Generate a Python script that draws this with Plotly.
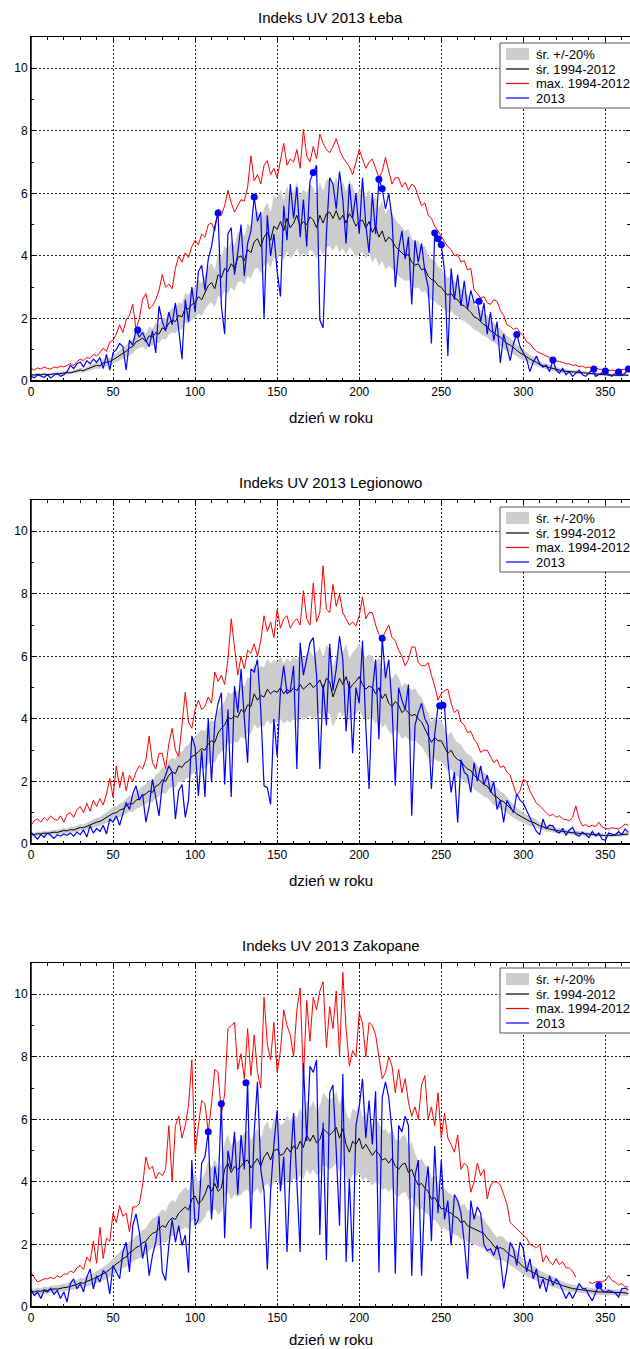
import plotly.graph_objects as go

# ---------------- DATA ----------------
# all series sampled every 2 days: day 0,2,...,364
obs_days = list(range(0, 365, 2))

leba_mean = [0.20, 0.19, 0.21, 0.20, 0.22, 0.20, 0.21, 0.23, 0.22, 0.24, 0.25,
             0.27, 0.26, 0.30, 0.32, 0.35, 0.33, 0.38, 0.42, 0.45, 0.50, 0.48, 0.58, 0.60, 0.62, 0.68,
             0.75, 0.82, 0.90, 0.95, 1.05, 1.10, 1.25, 1.30, 1.38, 1.25, 1.45, 1.40, 1.55, 1.50, 1.70, 1.65, 1.85, 1.95, 1.90, 2.10, 2.05, 2.35, 2.30, 2.45, 2.50,
             2.70, 2.60, 2.85, 3.05, 3.15, 2.95, 3.40, 3.30, 3.60, 3.50, 3.75, 3.60, 3.95, 4.00, 3.85, 4.20, 4.10, 4.45, 4.55, 4.30, 4.60, 4.75, 4.50, 4.95, 4.85,
             5.10, 4.80, 5.20, 4.90, 5.05, 5.30, 4.95, 5.10, 5.00, 5.25, 5.15, 4.90, 5.30, 5.05, 5.35, 5.40, 5.20, 5.45, 5.15, 5.30, 5.05, 5.35, 5.20, 4.95, 5.10,
             5.15, 4.90, 5.10, 4.75, 4.95, 4.60, 4.80, 4.45, 4.60, 4.50, 4.30, 4.20, 4.10, 4.00, 4.05, 3.80, 3.70, 3.75, 3.55, 3.60, 3.35, 3.25, 3.20, 3.05, 3.00,
             2.85, 2.75, 2.80, 2.65, 2.60, 2.45, 2.40, 2.30, 2.20, 2.05, 2.00, 1.90, 1.80, 1.75, 1.60, 1.55, 1.45, 1.40, 1.30, 1.20, 1.15, 1.05, 0.98, 0.90, 0.85,
             0.78, 0.70, 0.65, 0.60, 0.52, 0.50, 0.46, 0.43, 0.40, 0.36, 0.34, 0.32, 0.31, 0.30, 0.28, 0.27, 0.26, 0.25, 0.24, 0.23, 0.22, 0.21, 0.21, 0.20, 0.20,
             0.19, 0.19, 0.18, 0.18, 0.18, 0.19, 0.18]
leba_max = [0.40, 0.35, 0.42, 0.38, 0.45, 0.40, 0.38, 0.45, 0.42, 0.48, 0.45,
            0.50, 0.55, 0.50, 0.62, 0.70, 0.65, 0.75, 0.72, 0.85, 0.80, 0.90, 1.05, 0.95, 1.25, 1.30,
            1.50, 1.80, 1.55, 1.95, 2.10, 2.45, 1.65, 2.00, 2.60, 2.80, 2.30, 2.40, 2.60, 2.90, 3.40, 3.00, 3.10, 2.95, 3.60, 4.00, 3.80, 4.10, 3.95, 4.30, 4.50,
            4.35, 4.70, 4.60, 5.00, 5.05, 4.80, 5.50, 5.30, 5.60, 6.10, 5.70, 5.40, 5.60, 5.80, 5.75, 6.20, 7.20, 6.40, 6.60, 6.30, 6.90, 7.05, 6.60, 6.80, 6.50,
            7.00, 7.60, 6.90, 7.10, 7.00, 7.40, 6.80, 8.05, 7.20, 7.00, 7.50, 7.10, 7.90, 7.60, 7.40, 7.30, 7.50, 7.75, 7.40, 7.15, 7.00, 6.85, 6.60, 7.00, 7.40,
            7.10, 6.80, 7.00, 7.10, 6.80, 6.50, 6.70, 7.15, 6.70, 6.30, 6.50, 6.50, 6.20, 6.35, 6.10, 6.30, 6.20, 5.90, 5.60, 5.70, 5.30, 5.20, 4.95, 4.80, 4.60,
            4.45, 4.30, 4.20, 4.00, 4.05, 3.80, 3.85, 3.55, 3.60, 2.90, 2.80, 2.65, 2.70, 2.50, 2.45, 2.60, 2.55, 2.25, 2.10, 1.80, 1.75, 1.65, 1.70, 1.55, 1.45,
            1.25, 1.20, 1.05, 0.95, 0.90, 0.85, 0.78, 0.75, 0.72, 0.65, 0.62, 0.60, 0.55, 0.55, 0.50, 0.52, 0.45, 0.48, 0.42, 0.45, 0.40, 0.42, 0.38, 0.37, 0.40,
            0.33, 0.35, 0.32, 0.34, 0.36, 0.38, 0.37]
leba_2013 = [0.15, 0.10, 0.20, 0.15, 0.12, 0.20, 0.10, 0.18, 0.25, 0.15, 0.20,
             0.30, 0.50, 0.40, 0.55, 0.60, 0.45, 0.65, 0.55, 0.70, 0.60, 0.75, 0.40, 0.85, 0.35, 0.90,
             1.00, 1.20, 1.10, 0.35, 1.30, 1.15, 1.63, 1.40, 1.55, 1.30, 1.10, 1.60, 0.90, 2.40, 1.90, 1.60, 2.20, 1.80, 2.50, 1.65, 0.70, 2.60, 1.90, 3.00, 2.20,
             3.50, 3.70, 2.90, 3.90, 4.30, 4.95, 5.37, 2.40, 1.50, 4.70, 4.90, 3.40, 4.10, 5.00, 3.35, 4.40, 4.80, 5.88, 5.10, 5.40, 2.00, 5.30, 4.00, 4.70, 3.50,
             2.70, 5.60, 4.50, 6.30, 5.20, 6.20, 4.60, 5.80, 4.30, 6.40, 6.67, 6.90, 1.95, 1.70, 4.70, 6.50, 6.30, 5.50, 6.70, 5.80, 4.40, 6.30, 5.20, 6.00, 4.70,
             6.50, 5.00, 4.10, 6.00, 4.70, 6.45, 6.15, 5.50, 6.00, 5.20, 3.00, 4.20, 4.80, 3.90, 4.60, 2.45, 4.50, 3.80, 4.40, 3.50, 3.00, 1.20, 4.73, 4.55, 4.36,
             3.50, 0.80, 3.60, 2.60, 3.40, 2.40, 3.20, 2.30, 2.90, 2.50, 2.55, 1.90, 2.50, 1.50, 2.20, 1.30, 1.90, 0.58, 1.50, 1.10, 0.65, 1.20, 1.49, 1.10, 0.90,
             0.70, 0.30, 0.60, 0.80, 0.55, 0.45, 0.50, 0.30, 0.67, 0.35, 0.25, 0.40, 0.20, 0.30, 0.15, 0.25, 0.35, 0.20, 0.15, 0.25, 0.38, 0.15, 0.20, 0.25, 0.32,
             0.20, 0.15, 0.25, 0.29, 0.20, 0.25, 0.38]
leba_dot_days = [65, 114, 136, 172, 212, 214, 246, 248, 250, 273, 296, 318, 343, 350, 358, 364]
leba_dot_vals = [1.63, 5.37, 5.88, 6.67, 6.45, 6.15, 4.73, 4.55, 4.36, 2.55, 1.49, 0.67, 0.38, 0.32, 0.29, 0.38]

leg_mean = [0.32, 0.30, 0.33, 0.32, 0.35, 0.34, 0.36, 0.38, 0.37, 0.40, 0.43,
            0.42, 0.46, 0.45, 0.50, 0.53, 0.52, 0.57, 0.60, 0.65, 0.70, 0.72, 0.78, 0.85, 0.90, 0.98,
            1.00, 1.08, 1.12, 1.20, 1.30, 1.28, 1.40, 1.45, 1.55, 1.60, 1.70, 1.65, 1.85, 1.90, 2.05, 2.00, 2.20, 2.30, 2.25, 2.50, 2.45, 2.60, 2.65, 2.80, 2.85,
            2.95, 3.05, 3.00, 3.20, 3.30, 3.25, 3.55, 3.70, 3.80, 4.05, 4.00, 4.10, 4.05, 4.30, 4.20, 4.45, 4.40, 4.80, 4.60, 4.75, 4.70, 4.95, 4.80, 4.90, 4.85,
            5.00, 4.80, 4.95, 4.85, 5.00, 4.90, 5.10, 4.95, 5.05, 5.15, 5.00, 5.10, 5.25, 4.95, 5.30, 5.20, 4.70, 5.00, 5.30, 5.10, 5.35, 4.95, 5.10, 5.20, 5.35,
            5.10, 4.95, 5.05, 5.00, 4.80, 5.00, 4.65, 4.80, 4.50, 4.40, 4.55, 4.45, 4.20, 4.30, 4.20, 4.10, 4.15, 4.00, 3.90, 3.70, 3.50, 3.25, 3.40, 3.30, 3.30,
            3.10, 2.90, 3.00, 2.80, 2.70, 2.65, 2.50, 2.40, 2.35, 2.20, 2.10, 2.00, 1.90, 1.85, 1.70, 1.55, 1.50, 1.40, 1.35, 1.25, 1.12, 1.05, 0.96, 0.90, 0.85,
            0.78, 0.72, 0.70, 0.64, 0.58, 0.55, 0.50, 0.48, 0.45, 0.43, 0.42, 0.40, 0.38, 0.37, 0.36, 0.35, 0.34, 0.33, 0.33, 0.31, 0.30, 0.29, 0.28, 0.28, 0.27,
            0.28, 0.27, 0.29, 0.28, 0.30, 0.31, 0.32]
leg_max = [0.60, 0.75, 0.80, 0.70, 0.85, 0.75, 0.90, 0.80, 0.75, 0.90, 0.70,
           0.95, 1.00, 0.85, 1.10, 1.20, 1.00, 1.30, 1.05, 1.40, 1.20, 1.45, 1.25, 1.60, 2.10, 1.50,
           2.50, 1.80, 2.30, 1.70, 2.20, 2.00, 2.30, 2.50, 2.40, 2.70, 3.45, 2.60, 2.40, 2.90, 2.90, 2.40, 3.20, 3.70, 3.00, 2.80, 3.80, 4.85, 3.90, 3.70, 4.30,
           4.60, 4.30, 4.40, 4.70, 4.50, 5.50, 5.20, 5.40, 5.10, 5.90, 7.20, 6.30, 5.40, 6.00, 5.60, 6.20, 6.10, 6.40, 6.00, 6.50, 7.30, 6.80, 7.10, 6.60, 7.50,
           6.90, 7.20, 7.30, 6.90, 7.10, 7.20, 7.00, 8.10, 7.20, 7.00, 8.35, 7.10, 7.40, 8.90, 7.50, 7.40, 8.30, 7.60, 8.00, 7.40, 7.20, 7.00, 7.10, 6.97, 7.30,
           7.90, 7.20, 7.40, 7.40, 7.00, 6.70, 6.60, 6.80, 7.00, 6.60, 6.50, 6.20, 6.00, 5.70, 5.90, 6.30, 6.30, 5.80, 5.70, 5.70, 5.80, 5.40, 5.05, 4.60, 4.80,
           4.90, 4.95, 4.50, 4.20, 4.30, 3.90, 3.80, 3.56, 3.60, 3.35, 3.20, 2.93, 3.00, 3.00, 2.80, 2.60, 2.70, 2.45, 2.50, 2.30, 2.20, 1.90, 1.54, 1.70, 2.07,
           2.00, 1.70, 1.50, 1.30, 1.22, 1.10, 1.00, 0.90, 0.95, 0.85, 0.90, 0.80, 0.78, 0.75, 0.85, 1.22, 0.80, 0.58, 0.62, 0.55, 0.60, 0.55, 0.70, 0.55, 0.50,
           0.48, 0.52, 0.50, 0.48, 0.55, 0.64, 0.60]
leg_2013 = [0.37, 0.25, 0.16, 0.30, 0.22, 0.35, 0.28, 0.18, 0.30, 0.25, 0.32,
            0.28, 0.35, 0.25, 0.38, 0.30, 0.45, 0.22, 0.58, 0.35, 0.50, 0.40, 0.60, 0.32, 0.80, 0.70,
            0.90, 0.60, 1.00, 1.33, 1.10, 1.60, 1.86, 1.40, 1.60, 0.70, 1.20, 2.07, 1.50, 0.90, 1.90, 2.20, 2.50, 2.30, 0.80, 1.70, 1.90, 0.85, 1.40, 3.46, 3.10,
            1.54, 3.00, 1.50, 4.00, 1.97, 3.90, 4.50, 4.84, 1.90, 4.30, 1.50, 5.05, 4.20, 5.60, 4.00, 2.60, 5.60, 5.50, 5.90, 4.30, 1.86, 1.80, 1.27, 4.00, 2.80,
            4.90, 5.70, 4.80, 4.90, 5.70, 2.40, 6.44, 5.40, 5.90, 6.44, 6.60, 5.40, 2.40, 5.10, 3.80, 6.40, 4.90, 5.60, 6.65, 5.90, 3.60, 5.20, 2.90, 5.00, 4.50,
            6.50, 3.76, 1.76, 4.90, 5.90, 3.35, 6.60, 5.30, 5.90, 4.40, 1.86, 5.00, 4.60, 4.30, 5.10, 0.90, 3.80, 4.20, 4.50, 4.00, 3.80, 1.76, 3.50, 4.40, 4.42,
            4.40, 2.70, 1.65, 2.30, 0.69, 2.70, 2.30, 2.20, 1.65, 2.60, 2.00, 2.50, 1.90, 2.20, 1.65, 2.00, 1.10, 1.40, 0.69, 1.40, 1.20, 1.00, 1.60, 1.40, 1.30,
            1.10, 0.85, 0.60, 0.40, 0.30, 0.80, 0.50, 0.60, 0.58, 0.40, 0.35, 0.50, 0.27, 0.45, 0.53, 0.30, 0.25, 0.38, 0.30, 0.20, 0.40, 0.25, 0.35, 0.15, 0.12,
            0.35, 0.32, 0.28, 0.40, 0.30, 0.48, 0.37]
leg_dot_days = [214, 249, 251]
leg_dot_vals = [6.58, 4.42, 4.44]

zak_mean = [0.50, 0.48, 0.52, 0.50, 0.55, 0.53, 0.56, 0.58, 0.57, 0.60, 0.62,
            0.63, 0.66, 0.68, 0.72, 0.78, 0.76, 0.82, 0.85, 0.90, 0.95, 1.00, 1.05, 1.12, 1.20, 1.30,
            1.38, 1.45, 1.55, 1.60, 1.75, 1.80, 1.90, 1.95, 2.05, 2.10, 2.25, 2.35, 2.40, 2.50, 2.60, 2.55, 2.75, 2.85, 2.80, 3.00, 3.10, 3.20, 3.10, 3.45, 3.55,
            3.30, 3.40, 3.60, 3.90, 3.70, 3.95, 3.70, 3.80, 4.40, 4.60, 4.30, 4.50, 4.40, 4.50, 4.65, 4.70, 4.45, 4.60, 4.75, 4.50, 4.80, 4.95, 4.70, 5.00, 5.05,
            4.85, 4.90, 5.10, 4.95, 5.15, 5.05, 5.30, 5.10, 5.50, 5.30, 5.50, 5.25, 5.35, 5.70, 5.60, 5.50, 5.60, 5.75, 5.40, 5.70, 5.20, 4.95, 5.30, 5.20, 5.40,
            5.05, 5.20, 5.00, 4.85, 5.00, 4.90, 4.70, 4.75, 4.60, 4.75, 4.50, 4.40, 4.55, 4.60, 4.30, 4.40, 4.10, 3.90, 3.95, 3.80, 3.70, 3.45, 3.50, 3.30, 3.14,
            3.15, 3.05, 3.00, 2.90, 2.85, 2.70, 2.75, 2.60, 2.55, 2.50, 2.45, 2.40, 2.35, 2.20, 2.10, 1.95, 1.86, 1.90, 1.85, 1.75, 1.65, 1.60, 1.50, 1.40, 1.28,
            1.22, 1.15, 1.10, 1.05, 0.96, 0.94, 0.88, 0.85, 0.80, 0.75, 0.72, 0.68, 0.64, 0.62, 0.59, 0.57, 0.55, 0.53, 0.53, 0.52, 0.50, 0.49, 0.48, 0.48, 0.48,
            0.47, 0.48, 0.47, 0.46, 0.46, 0.45, 0.43]
zak_max = [1.10, 0.95, 0.80, 0.85, 0.90, 0.90, 0.95, 0.90, 1.00, 0.95, 1.05,
           1.05, 1.15, 1.10, 1.25, 1.33, 1.20, 1.60, 1.45, 2.10, 1.40, 2.55, 1.55, 2.20, 2.10, 3.00,
           2.70, 3.24, 2.90, 3.00, 2.40, 3.20, 3.20, 3.30, 3.90, 4.80, 4.40, 4.50, 4.10, 4.30, 4.20, 4.40, 5.80, 4.00, 5.80, 6.10, 5.40, 5.80, 6.45, 7.90, 4.90,
           5.80, 6.60, 6.50, 5.60, 6.50, 7.60, 7.50, 6.20, 6.80, 8.90, 9.00, 9.10, 7.60, 8.10, 7.30, 8.90, 7.40, 8.70, 7.50, 7.00, 9.90, 8.40, 7.90, 9.10, 7.50,
           8.20, 9.50, 9.00, 8.70, 8.00, 9.50, 10.20, 7.30, 9.80, 8.50, 9.90, 9.50, 10.10, 10.40, 8.30, 9.60, 8.90, 10.10, 8.00, 10.70, 8.90, 7.70, 8.20, 8.00, 9.40,
           9.10, 8.00, 9.10, 9.00, 8.70, 8.00, 7.30, 7.50, 8.00, 7.70, 6.85, 7.60, 6.85, 7.30, 6.55, 6.10, 6.40, 6.00, 7.10, 7.40, 6.00, 6.40, 5.80, 6.85, 5.40,
           6.20, 5.40, 5.20, 4.95, 5.50, 4.40, 4.60, 4.50, 3.67, 4.00, 4.60, 4.20, 4.40, 3.45, 3.90, 4.00, 4.00, 3.90, 3.60, 3.30, 2.70, 2.60, 2.50, 2.40, 2.30,
           2.20, 2.00, 1.95, 1.90, 2.00, 1.44, 1.65, 1.44, 1.35, 1.55, 1.35, 1.45, 1.25, 1.25, 1.15, 0.96, None, None, None, 0.80, 0.75, 0.80, 0.82, 0.80, 0.85,
           1.00, 0.85, 0.80, 0.70, 0.75, 0.65, 0.64]
zak_2013 = [0.55, 0.37, 0.48, 0.27, 0.53, 0.48, 0.60, 0.40, 0.53, 0.27, 0.48,
            0.16, 0.75, 0.90, 0.58, 0.75, 0.48, 0.95, 1.22, 0.58, 1.00, 0.80, 1.17, 1.05, 0.42, 1.33,
            1.12, 0.90, 1.76, 2.07, 1.12, 2.60, 2.98, 2.40, 1.55, 2.07, 1.00, 1.65, 2.07, 2.90, 1.12, 0.85, 1.97, 2.80, 2.07, 2.60, 1.97, 2.30, 1.10, 4.70, 2.60,
            2.80, 4.60, 4.80, 5.60, 2.80, 4.50, 3.80, 6.50, 2.20, 5.00, 4.40, 5.60, 3.60, 5.50, 4.40, 7.17, 2.50, 5.60, 7.20, 4.40, 3.70, 1.20, 3.70, 5.20, 6.30,
            3.70, 4.80, 1.76, 4.50, 6.20, 3.70, 1.76, 7.80, 5.30, 7.70, 7.50, 7.90, 2.30, 5.90, 1.50, 6.85, 7.10, 5.00, 2.60, 7.45, 1.44, 4.10, 1.44, 5.80, 6.40,
            7.30, 5.40, 6.60, 5.20, 6.90, 1.10, 6.70, 7.20, 6.70, 5.60, 1.06, 5.80, 5.60, 6.10, 5.80, 1.00, 4.20, 4.70, 1.00, 3.70, 4.50, 2.10, 5.15, 3.00, 4.70,
            2.80, 3.40, 1.97, 3.60, 3.40, 3.00, 2.07, 0.90, 3.40, 2.80, 3.20, 3.00, 2.00, 1.80, 1.86, 1.65, 1.97, 1.55, 0.59, 1.22, 2.07, 1.86, 1.33, 2.07, 1.86,
            1.12, 1.55, 0.90, 1.22, 0.59, 0.90, 0.48, 1.00, 0.69, 0.90, 0.75, 0.48, 0.27, 0.48, 0.27, 0.48, 0.75, 0.60, 0.58, 0.37, 0.20, 0.45, 0.69, 0.53, 0.48,
            0.53, 0.48, 0.45, 0.32, 0.58, 0.60, 0.55]
zak_dot_days = [108, 116, 131, 346]
zak_dot_vals = [5.60, 6.50, 7.17, 0.69]

titles = ["Indeks UV 2013 Łeba", "Indeks UV 2013 Legionowo", "Indeks UV 2013 Zakopane"]
legend_names = ["śr. +/-20%", "śr. 1994-2012", "max. 1994-2012", "2013"]
x_title = "dzień w roku"
x_ticks = [0, 50, 100, 150, 200, 250, 300, 350]
y_ticks = [0, 2, 4, 6, 8, 10]

panels = [
    (leba_mean, leba_max, leba_2013, leba_dot_days, leba_dot_vals),
    (leg_mean, leg_max, leg_2013, leg_dot_days, leg_dot_vals),
    (zak_mean, zak_max, zak_2013, zak_dot_days, zak_dot_vals),
]
for p in panels:
    if not (len(p[0]) == len(p[1]) == len(p[2]) == len(obs_days)):
        raise ValueError(f"length mismatch {len(p[0])} {len(p[1])} {len(p[2])}")

# ---------------- FIGURE ----------------
FONT = "Arial, 'Liberation Sans', sans-serif"
W, H = 630, 1349
ML, MR, MT, MB = 31, 0, 37, 42
PH = H - MT - MB
PW = W - ML - MR


def py(pix):
    """pixel row -> paper y"""
    return (H - MB - pix) / PH


def px(pix):
    """pixel column -> paper x"""
    return (pix - ML) / PW


panel_px = [(37, 381), (500, 844), (963, 1307)]
title_px = [18, 483, 946]
xtitle_px = [417, 880, 1340]
legend_top_px = [43, 507, 968]
LEG_ITEM_OFF = [11, 26, 40.5, 55]
LEG_H = 65
legend_colors = [None, "black", "#ff0000", "#0000ff"]

fig = go.Figure()
layout = dict(
    width=W, height=H,
    margin=dict(l=ML, r=MR, t=MT, b=MB, autoexpand=False),
    paper_bgcolor="white", plot_bgcolor="white",
    font=dict(family=FONT, size=12, color="black"),
    showlegend=False,
    annotations=[], shapes=[],
)

for i, (mean, mx, cur, ddays, dvals) in enumerate(panels):
    sfx = "" if i == 0 else str(i + 1)
    xa, ya = "x" + sfx, "y" + sfx
    upper = [v * 1.2 for v in mean]
    lower = [v * 0.8 for v in mean]
    fig.add_trace(go.Scatter(x=obs_days, y=lower, mode="lines", line=dict(width=0, color="#cccccc"),
                             hoverinfo="skip", xaxis=xa, yaxis=ya))
    fig.add_trace(go.Scatter(x=obs_days, y=upper, mode="lines", line=dict(width=0, color="#cccccc"),
                             fill="tonexty", fillcolor="#cccccc", name=legend_names[0], xaxis=xa, yaxis=ya))
    fig.add_trace(go.Scatter(x=obs_days, y=mean, mode="lines", line=dict(width=1, color="black"),
                             name=legend_names[1], xaxis=xa, yaxis=ya))
    fig.add_trace(go.Scatter(x=obs_days, y=mx, mode="lines", line=dict(width=1, color="#ff0000"),
                             name=legend_names[2], xaxis=xa, yaxis=ya))
    fig.add_trace(go.Scatter(x=obs_days, y=cur, mode="lines", line=dict(width=1.2, color="#0000ff"),
                             name=legend_names[3], xaxis=xa, yaxis=ya))
    fig.add_trace(go.Scatter(x=ddays, y=dvals, mode="markers", marker=dict(size=7, color="#0000ff"),
                             xaxis=xa, yaxis=ya))

    top, bot = panel_px[i]
    common = dict(ticks="inside", ticklen=4, tickcolor="black", showline=True, linecolor="black",
                  linewidth=1, mirror="allticks", showgrid=True, gridcolor="#222222", griddash="2px,2px",
                  gridwidth=1, zeroline=False, tickfont=dict(size=12))
    layout["xaxis" + sfx] = dict(
        domain=[0, 1], anchor=ya, range=[0, 365], tickmode="array", tickvals=x_ticks,
        minor=dict(dtick=10, tick0=0, ticks="inside", ticklen=3, tickcolor="black", showgrid=False),
        **common)
    layout["yaxis" + sfx] = dict(
        domain=[py(bot), py(top)], anchor=xa, range=[0, 11], tickmode="array", tickvals=y_ticks,
        minor=dict(dtick=1, tick0=0, ticks="inside", ticklen=3, tickcolor="black", showgrid=False),
        **common)

    # heavier bottom and left frame lines
    layout["shapes"].append(dict(type="line", xref="paper", yref="paper", layer="above",
                                 x0=0, x1=1, y0=py(bot), y1=py(bot), line=dict(color="black", width=2)))
    layout["shapes"].append(dict(type="line", xref="paper", yref="paper", layer="above",
                                 x0=0, x1=0, y0=py(bot), y1=py(top), line=dict(color="black", width=1.5)))

    # titles
    layout["annotations"].append(dict(text=titles[i], x=0.5, xref="paper", y=py(title_px[i]), yref="paper",
                                      xanchor="center", yanchor="middle", showarrow=False,
                                      font=dict(size=15, family=FONT)))
    layout["annotations"].append(dict(text=x_title, x=0.5, xref="paper", y=py(xtitle_px[i]), yref="paper",
                                      xanchor="center", yanchor="middle", showarrow=False,
                                      font=dict(size=15, family=FONT)))

    # hand-drawn legend box (to match compact entry spacing)
    lt = legend_top_px[i]
    layout["shapes"].append(dict(type="rect", xref="paper", yref="paper", layer="above",
                                 x0=px(500), x1=px(645), y0=py(lt + LEG_H), y1=py(lt),
                                 fillcolor="white", line=dict(color="#555555", width=1)))
    for k, name in enumerate(legend_names):
        cy = lt + LEG_ITEM_OFF[k]
        if k == 0:
            layout["shapes"].append(dict(type="rect", xref="paper", yref="paper", layer="above",
                                         x0=px(506), x1=px(529), y0=py(cy + 6), y1=py(cy - 6),
                                         fillcolor="#cccccc", line=dict(width=0)))
        else:
            layout["shapes"].append(dict(type="line", xref="paper", yref="paper", layer="above",
                                         x0=px(506), x1=px(529), y0=py(cy), y1=py(cy),
                                         line=dict(color=legend_colors[k], width=1.2)))
        layout["annotations"].append(dict(text=name, x=px(534), xref="paper", y=py(cy), yref="paper",
                                          xanchor="left", yanchor="middle", showarrow=False,
                                          font=dict(size=13, family=FONT)))

fig.update_layout(**layout)
fig.write_html("out.html")
